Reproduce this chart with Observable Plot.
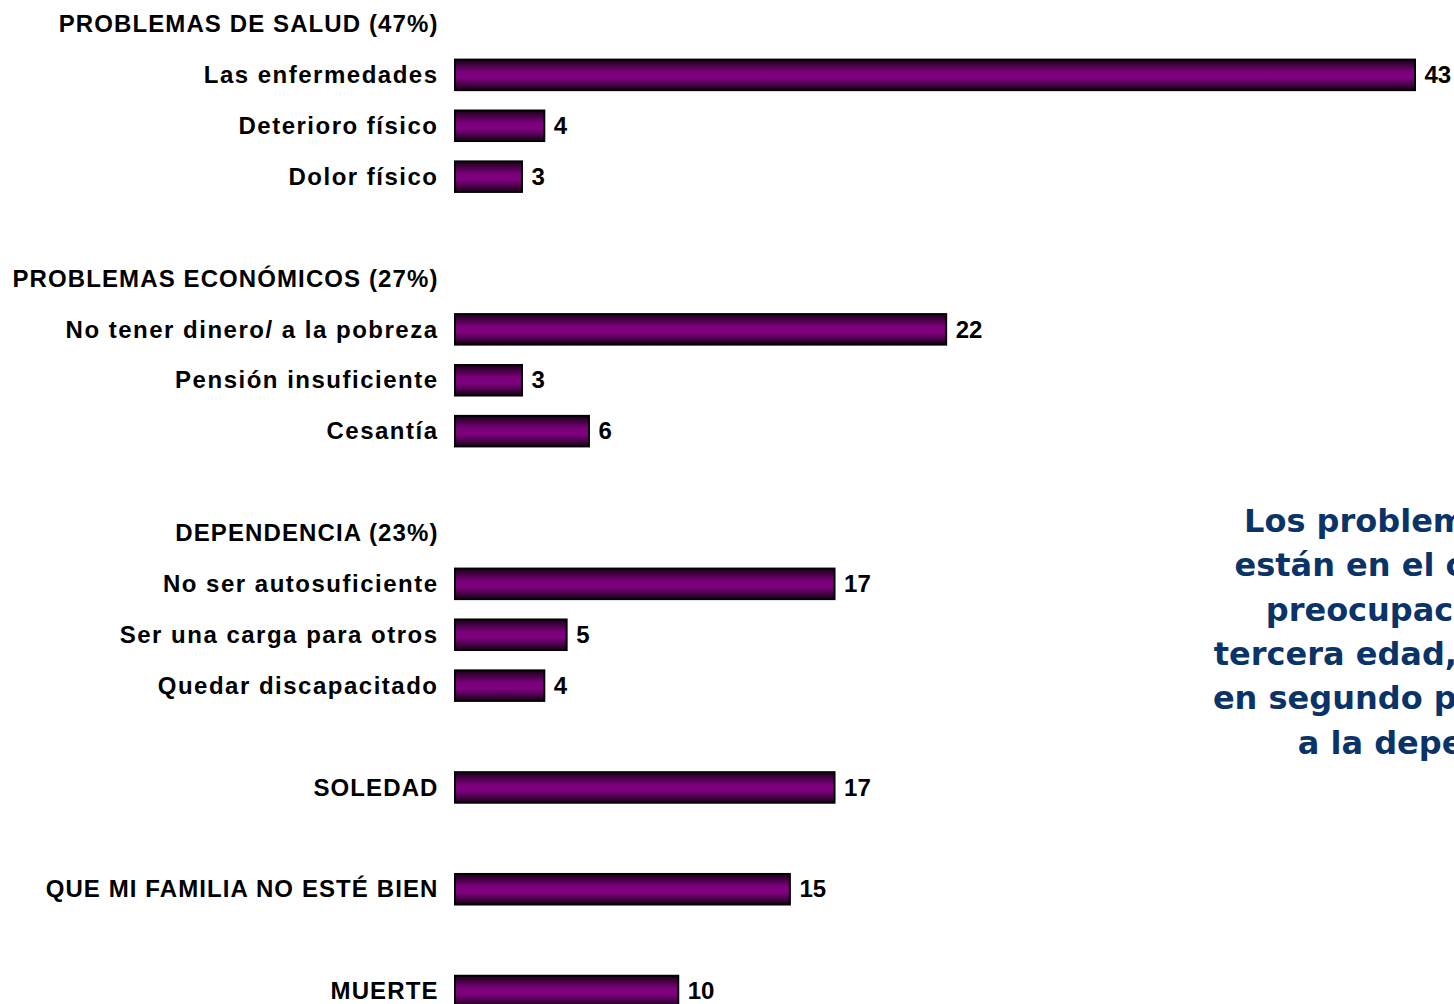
<!DOCTYPE html>
<html>
<head>
<meta charset="utf-8">
<script src="https://cdn.jsdelivr.net/npm/d3@7"></script>
<script src="https://cdn.jsdelivr.net/npm/@observablehq/plot@0.6"></script>
<style>
  html, body { margin: 0; padding: 0; background: #fff; overflow: hidden; }
  #chart svg { display: block; overflow: visible; }
</style>
</head>
<body>
<div id="chart"></div>
<script>
const categories = [
  "PROBLEMAS DE SALUD (47%)",
  "Las enfermedades",
  "Deterioro físico",
  "Dolor físico",
  "",
  "PROBLEMAS ECONÓMICOS (27%)",
  "No tener dinero/ a la pobreza",
  "Pensión insuficiente",
  "Cesantía",
  "",
  "DEPENDENCIA (23%)",
  "No ser autosuficiente",
  "Ser una carga para otros",
  "Quedar discapacitado",
  "",
  "SOLEDAD",
  "",
  "QUE MI FAMILIA NO ESTÉ BIEN",
  "",
  "MUERTE"
];
const values = [null, 43, 4, 3, null, null, 22, 3, 6, null, null, 17, 5, 4, null, 17, null, 15, null, 10];

const noteLines = [
  "Los problemas de salud",
  "están en el centro de las",
  "preocupaciones de la",
  "tercera edad, seguidos por",
  "en segundo plano, dejando",
  "a la dependencia."
];

const rows = categories.map((label, i) => ({i, label, value: values[i]}));
const bars = rows.filter(d => d.value != null);

function gradientDefs() {
  const ns = "http://www.w3.org/2000/svg";
  const defs = document.createElementNS(ns, "defs");
  defs.innerHTML = `
    <linearGradient id="purp" x1="0" y1="0" x2="0" y2="1">
      <stop offset="0%" stop-color="#1a0019"/>
      <stop offset="40%" stop-color="#7a007a"/>
      <stop offset="60%" stop-color="#800080"/>
      <stop offset="100%" stop-color="#1a0019"/>
    </linearGradient>`;
  return defs;
}

const labelFont = "'Liberation Sans', Arial, sans-serif";

const chart = Plot.plot({
  width: 1454,
  height: 1004,
  marginTop: 0, marginBottom: 0, marginLeft: 0, marginRight: 0,
  x: {domain: [0, 43], range: [455, 1415], axis: null},
  y: {type: "band", domain: d3.range(categories.length), range: [8.7, 1006.3], paddingInner: 0.4, paddingOuter: 0, round: false, axis: null},
  marks: [
    gradientDefs,
    Plot.barX(bars, {x: "value", y: "i", fill: "url(#purp)", stroke: "black", strokeWidth: 2}),
    Plot.text(rows.filter(d => d.label), {
      x: 0, y: "i", text: "label", textAnchor: "end", dx: -17,
      fontSize: 24, fontWeight: "bold", fontFamily: labelFont, fill: "black"
    }),
    Plot.text(bars, {
      x: "value", y: "i", text: d => String(d.value), textAnchor: "start", dx: 9,
      fontSize: 24, fontWeight: "bold", fontFamily: labelFont, fill: "black"
    }),
    Plot.text([noteLines.join("\n")], {
      frameAnchor: "right", text: d => d, textAnchor: "middle", lineAnchor: "middle",
      lineHeight: 1.39, dx: 3, dy: 126,
      fontSize: 32, fontWeight: "bold", fontFamily: "'DejaVu Sans', Verdana, sans-serif", fill: "#0a3468"
    })
  ]
});

// spacing of the category labels (tracking as in the original slide)
const labelGroup = chart.querySelectorAll('g[aria-label="text"]')[0];
if (labelGroup) {
  labelGroup.querySelectorAll("text").forEach(t => {
    const s = t.textContent;
    t.setAttribute("letter-spacing", s === s.toUpperCase() ? "1.1" : "1.5");
  });
}
document.getElementById("chart").appendChild(chart);
</script>
</body>
</html>
